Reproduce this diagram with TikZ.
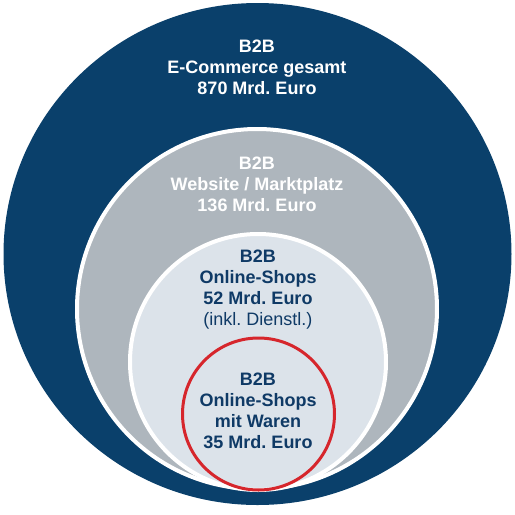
\documentclass[tikz,border=0pt]{standalone}
\usepackage{fontspec}
\setmainfont{Liberation Sans}
\usepackage{xcolor}
\usetikzlibrary{positioning}
\definecolor{navyring}{RGB}{10,64,107}
\definecolor{greyring}{RGB}{174,182,189}
\definecolor{paleringfill}{RGB}{220,227,234}
\definecolor{redring}{RGB}{214,38,44}
\definecolor{navytext}{RGB}{15,58,102}
\frenchspacing
\tikzset{
  % circle styles
  ring/.style={draw=white, line width=4pt, fill=#1},
  ring/.default={greyring},
  circtext/.style={align=center, inner sep=0pt, font=\bfseries\fontsize{18}{21}\selectfont, text=#1},
  circtext/.default={white},
}
\begin{document}
\begin{tikzpicture}[x=1pt, y=-1pt]
    \useasboundingbox (0,0) rectangle (515,515);
    % Outer: total e-commerce
    \fill[navyring] (257.5,254) ellipse [x radius=254, y radius=251];
    % Website / marketplace
    \filldraw[ring=greyring] (257,309) circle (180);
    % Online shops
    \filldraw[ring=paleringfill] (258,362) circle (128);
    % Online shops with goods
    \draw[redring, line width=3pt] (258.5,414) circle (76);
    % Texts
    \node[circtext] (total) at (257,67) {B2B\\E-Commerce gesamt\\870 Mrd. Euro};
    \node[circtext] (website) at (257,184) {B2B\\Website / Marktplatz\\136 Mrd. Euro};
    \node[circtext=navytext] (shops) at (258,290) {B2B\\Online-Shops\\52 Mrd. Euro\\{\mdseries (inkl. Dienstl.)}};
    \node[circtext=navytext] (goods) at (258,411) {B2B\\Online-Shops\\mit Waren\\35 Mrd. Euro};
\end{tikzpicture}
\end{document}
